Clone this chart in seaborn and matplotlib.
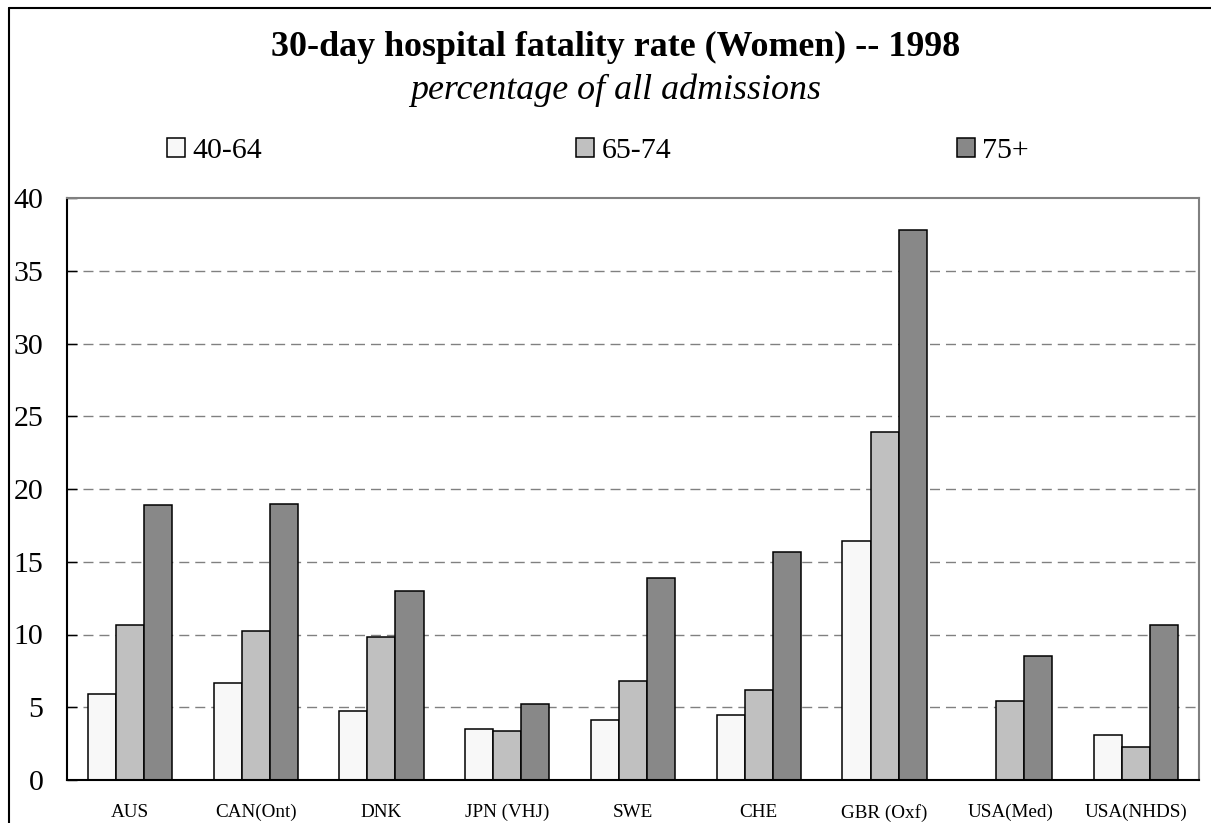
import matplotlib
matplotlib.use("Agg")
import matplotlib.pyplot as plt
from matplotlib.lines import Line2D
import numpy as np
import pandas as pd
import seaborn as sns

countries = ["AUS", "CAN(Ont)", "DNK", "JPN (VHJ)", "SWE", "CHE", "GBR (Oxf)", "USA(Med)", "USA(NHDS)"]
age_groups = ["40-64", "65-74", "75+"]
rate_40_64 = [5.9, 6.7, 4.75, 3.5, 4.1, 4.5, 16.4, np.nan, 3.1]
rate_65_74 = [10.65, 10.25, 9.8, 3.4, 6.8, 6.2, 23.9, 5.4, 2.25]
rate_75_plus = [18.9, 19.0, 13.0, 5.2, 13.9, 15.65, 37.8, 8.5, 10.65]
bar_colors = ["#F8F8F8", "#C0C0C0", "#888888"]
y_ticks = [0, 5, 10, 15, 20, 25, 30, 35, 40]

df = pd.DataFrame({
    "country": countries * 3,
    "age": sum([[a] * len(countries) for a in age_groups], []),
    "rate": rate_40_64 + rate_65_74 + rate_75_plus,
})

sns.set_theme(style="white")
plt.rcParams["font.family"] = ["Liberation Serif", "DejaVu Serif"]
plt.rcParams["text.color"] = "black"
plt.rcParams["xtick.color"] = "black"
plt.rcParams["ytick.color"] = "black"
plt.rcParams["xtick.labelcolor"] = "black"
plt.rcParams["ytick.labelcolor"] = "black"

fig = plt.figure(figsize=(12.11, 8.23), dpi=100)
ax = fig.add_axes([67 / 1211, 1 - 780 / 823, (1199 - 67) / 1211, (780 - 198) / 823])

sns.barplot(data=df, x="country", y="rate", hue="age", order=countries, hue_order=age_groups,
            palette=bar_colors, saturation=1, width=0.67, edgecolor="black", linewidth=1.1,
            errorbar=None, ax=ax)

handles, labels = ax.get_legend_handles_labels()
if ax.get_legend() is not None:
    ax.get_legend().remove()

ax.set_ylim(0, 40)
ax.set_xlim(-0.5, len(countries) - 0.5)
ax.set_yticks(y_ticks)
ax.set_yticklabels([str(t) for t in y_ticks], fontsize=21.5, color="black")
ax.set_xticks(range(len(countries)))
ax.set_xticklabels(countries, fontsize=13.8, color="black")
ax.set_xticks(np.arange(-0.5, len(countries), 1.0), minor=True)
ax.tick_params(axis="x", which="major", length=0, pad=17)
ax.tick_params(axis="x", which="minor", direction="in", length=4.5, width=1, color="black")
ax.tick_params(axis="y", which="major", direction="in", length=7, width=1, color="black", pad=17, left=True)
ax.set_xlabel("")
ax.set_ylabel("")

for v in y_ticks[1:-1]:
    ax.axhline(v, color="#808080", linewidth=1.0, linestyle=(0, (7.2, 4.3)), zorder=0)

for side in ["left", "bottom"]:
    ax.spines[side].set_color("black")
    ax.spines[side].set_linewidth(1.5)
for side in ["top", "right"]:
    ax.spines[side].set_color("#808080")
    ax.spines[side].set_linewidth(1.5)
ax.set_axisbelow(True)

fig.text(0.508, 1 - 47 / 823, "30-day hospital fatality rate (Women) -- 1998", ha="center", va="center",
         fontsize=25.8, fontweight="bold", color="black")
fig.text(0.508, 1 - 90 / 823, "percentage of all admissions", ha="center", va="center",
         fontsize=25.8, fontstyle="italic", color="black")

legend_x = [167 / 1211, 576 / 1211, 957 / 1211]
for h, lab, lx in zip(handles, labels, legend_x):
    leg = fig.legend([h], [lab], loc="center left", bbox_to_anchor=(lx, 1 - 151 / 823), frameon=False,
                     fontsize=21.5, handlelength=0.6, handleheight=0.6, handletextpad=0.25,
                     borderpad=0, borderaxespad=0, labelcolor="black")

fig.add_artist(Line2D([9 / 1211, 9 / 1211], [0, 1 - 8 / 823], transform=fig.transFigure, color="black", linewidth=1.5))
fig.add_artist(Line2D([9 / 1211, 1], [1 - 8 / 823, 1 - 8 / 823], transform=fig.transFigure, color="black", linewidth=1.5))

fig.savefig("out.png", dpi=100, facecolor="white")
